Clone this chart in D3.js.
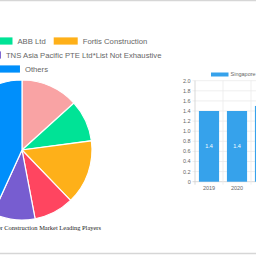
<!DOCTYPE html>
<html><head><meta charset="utf-8">
<script src="https://cdn.jsdelivr.net/npm/d3@7"></script>
<style>html,body{margin:0;padding:0;background:#fff;overflow:hidden}svg{display:block}</style>
</head><body>
<svg id="c" width="256" height="256"></svg>
<script>
// ---- data ----
const players = ["Keppel Seghers", "ABB Ltd", "Fortis Construction", "Sembcorp Water", "TNS Asia Pacific PTE Ltd*List Not Exhaustive", "Others"];
const shares = [13.3, 9.6, 14.9, 9.2, 9.8, 43.2];
const playerColors = ["#F9A3A4", "#00E396", "#FEB019", "#FF4560", "#775DD0", "#008FFB"];
const legendRows = [[0, 1, 2], [3, 4], [5]];
const pieTitle = "Singapore Wastewater Construction Market Leading Players";

const years = ["2019", "2020", "2021", "2022", "2023", "2024", "2025"];
const marketValues = [1.4, 1.4, 1.5, 1.6, 1.7, 1.8, 1.9];
const seriesName = "Singapore";
const yTicks = [0, 0.2, 0.4, 0.6, 0.8, 1.0, 1.2, 1.4, 1.6, 1.8, 2.0];

const svg = d3.select("#c");
// page borders
svg.append("line").attr("x1",0).attr("x2",256).attr("y1",0.5).attr("y2",0.5).attr("stroke","#d6d6d6").attr("stroke-width",1.5);
svg.append("line").attr("x1",0).attr("x2",256).attr("y1",253.5).attr("y2",253.5).attr("stroke","#d6d6d6").attr("stroke-width",1.5);

// ---- pie ----
const cx = 22, cy = 150, R = 70;
const pie = d3.pie().sort(null).value(d => d)(shares);
const arc = d3.arc().innerRadius(0).outerRadius(R);
svg.append("g").attr("transform", `translate(${cx},${cy})`)
  .selectAll("path").data(pie).join("path")
  .attr("d", arc).attr("fill", (d, i) => playerColors[i])
  .attr("stroke", "#fff").attr("stroke-width", 1.2);

// legend
const fs = 7.7, box = 24, boxH = 7.2, gap = 5, itemGap = 8;
const lg = svg.append("g").attr("font-family", "Liberation Sans, Arial, sans-serif").attr("font-size", fs).attr("fill", "#666");
legendRows.forEach((row, r) => {
  const y = 41 + r * 14;
  const items = row.map(i => {
    const t = lg.append("text").attr("y", y).attr("dy", "0.35em").text(players[i]);
    return {i, t, w: t.node().getComputedTextLength()};
  });
  const total = d3.sum(items, d => box + gap + d.w) + itemGap * (items.length - 1);
  let x = cx - total / 2;
  items.forEach(d => {
    lg.append("rect").attr("x", x).attr("y", y - boxH / 2).attr("width", box).attr("height", boxH).attr("fill", playerColors[d.i]);
    d.t.attr("x", x + box + gap);
    x += box + gap + d.w + itemGap;
  });
});

svg.append("text").attr("x", 101).attr("y", 230).attr("text-anchor", "end")
  .attr("font-family", "Liberation Serif, Times New Roman, serif").attr("font-size", 6.45).attr("fill", "#222")
  .text(pieTitle);

// ---- bar chart ----
const x0 = 195, step = 28;
const x = d3.scaleBand().domain(years).range([x0, x0 + step * years.length]).paddingInner(0).paddingOuter(0);
const y = d3.scaleLinear().domain([0, 2]).range([181.7, 80.7]);
const bg = svg.append("g").attr("font-family", "Liberation Sans, Arial, sans-serif").attr("font-size", 5.5).attr("fill", "#666");
// horizontal grid
bg.selectAll("line.h").data(yTicks).join("line")
  .attr("x1", x0 - 2.5).attr("x2", x0 + step * years.length).attr("y1", d => y(d)).attr("y2", d => y(d))
  .attr("stroke", d => d === 0 ? "#cfcfcf" : "#ebebeb").attr("stroke-width", 0.8);
// vertical grid
bg.selectAll("line.v").data(d3.range(years.length + 1)).join("line")
  .attr("x1", i => x0 + i * step).attr("x2", i => x0 + i * step).attr("y1", y(2)).attr("y2", y(0) + 3)
  .attr("stroke", i => i === 0 ? "#cfcfcf" : "#ebebeb").attr("stroke-width", 0.8);
bg.selectAll("text.yt").data(yTicks).join("text")
  .attr("x", 190.7).attr("y", d => y(d)).attr("dy", "0.35em").attr("text-anchor", "end")
  .text(d => d === 0 ? "0" : d.toFixed(1));
bg.selectAll("text.xt").data(years).join("text")
  .attr("x", d => x(d) + step / 2).attr("y", 188).attr("dy", "0.35em").attr("text-anchor", "middle").text(d => d);
const bw = step * 0.72;
bg.selectAll("rect.bar").data(marketValues).join("rect")
  .attr("x", (d, i) => x(years[i]) + (step - bw) / 2).attr("width", bw)
  .attr("y", d => y(d)).attr("height", d => y(0) - y(d)).attr("fill", "#36A2EB");
bg.selectAll("text.val").data(marketValues).join("text")
  .attr("x", (d, i) => x(years[i]) + step / 2).attr("y", d => (y(d) + y(0)) / 2).attr("dy", "0.35em")
  .attr("text-anchor", "middle").attr("fill", "#fff").text(d => d.toFixed(1));
// bar legend
bg.append("rect").attr("x", 211).attr("y", 72.5).attr("width", 17.5).attr("height", 4).attr("fill", "#36A2EB");
bg.append("text").attr("x", 230.5).attr("y", 74.5).attr("dy", "0.35em").text(seriesName);
</script>
</body></html>
